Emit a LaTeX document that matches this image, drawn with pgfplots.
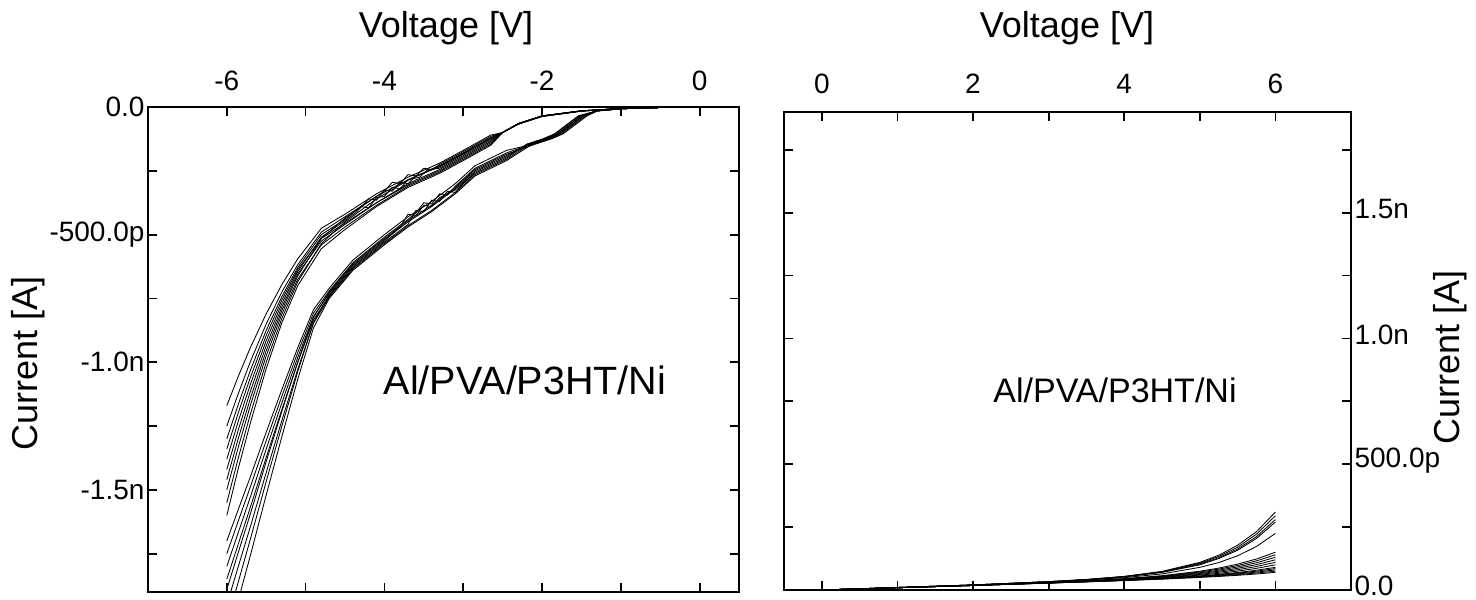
\documentclass[border=0pt]{standalone}
\usepackage{fontspec}
\setmainfont{Liberation Sans}
\usepackage{pgfplots}
\pgfplotsset{compat=1.18}
\pgfplotsset{
  ivbase/.style={
    scale only axis,
    axis line style={line width=1.8pt},
    every tick/.style={black, line width=1.8pt},
    tick align=inside,
    tick pos=both,
    major tick length=9pt,
    minor tick length=9pt,
    xticklabel pos=upper,
    tick label style={font=\fontsize{28}{32}\selectfont},
    clip=true,
  },
  cv/.style={black, line width=0.85pt, mark=none},
}
\begin{document}
\begin{tikzpicture}[x=1pt,y=1pt]
\useasboundingbox (0,0) rectangle (1476,600);
% ---------------- left panel ----------------
\begin{axis}[ivbase,
  at={(148pt,8pt)}, anchor=south west,
  width=591pt, height=485pt,
  xmin=-7, xmax=0.5, ymin=-1.9, ymax=0,
  xtick={-6,-4,-2,0}, xticklabels={-6,-4,-2,0},
  minor xtick={-5,-3,-1},
  ytick={0,-0.5,-1,-1.5}, yticklabels={0.0,-500.0p,-1.0n,-1.5n},
  minor ytick={-0.25,-0.75,-1.25,-1.75},
  yticklabel pos=left,
  xticklabel style={yshift=13pt},
]
% upper branch bundle
\addplot[cv] coordinates {(0,0) (-0.5,-0.002) (-1,-0.006) (-1.5,-0.015) (-2,-0.035) (-2.3,-0.065) (-2.5,-0.10) (-2.65,-0.11) (-3,-0.17) (-3.3,-0.22) (-3.7,-0.275) (-4.1,-0.34) (-4.5,-0.42) (-4.8,-0.475) (-5.1,-0.595) (-5.3,-0.695) (-5.5,-0.81) (-5.7,-0.942) (-5.85,-1.052) (-6,-1.17)};
\addplot[cv] coordinates {(0,0) (-0.5,-0.002) (-1,-0.006) (-1.5,-0.015) (-2,-0.035) (-2.3,-0.065) (-2.5,-0.10) (-2.65,-0.12) (-3,-0.18) (-3.3,-0.23) (-3.7,-0.285) (-4.1,-0.35) (-4.5,-0.43) (-4.8,-0.49) (-5.1,-0.618) (-5.3,-0.724) (-5.5,-0.85) (-5.7,-0.997) (-5.85,-1.119) (-6,-1.25)};
\addplot[cv] coordinates {(0,0) (-0.5,-0.002) (-1,-0.006) (-1.5,-0.016) (-2,-0.036) (-2.3,-0.066) (-2.5,-0.10) (-2.65,-0.13) (-3,-0.19) (-3.3,-0.24) (-3.45,-0.245) (-3.55,-0.275) (-3.7,-0.285) (-3.8,-0.32) (-3.9,-0.315) (-4.0,-0.35) (-4.1,-0.355) (-4.2,-0.395) (-4.3,-0.39) (-4.5,-0.44) (-4.8,-0.50) (-5.1,-0.629) (-5.3,-0.742) (-5.5,-0.875) (-5.7,-1.031) (-5.85,-1.161) (-6,-1.30)};
\addplot[cv] coordinates {(0,0) (-0.5,-0.002) (-1,-0.006) (-1.5,-0.016) (-2,-0.037) (-2.3,-0.067) (-2.5,-0.10) (-2.65,-0.14) (-3,-0.20) (-3.3,-0.25) (-3.7,-0.305) (-4.1,-0.375) (-4.5,-0.455) (-4.8,-0.515) (-5.1,-0.637) (-5.3,-0.755) (-5.5,-0.895) (-5.7,-1.059) (-5.85,-1.194) (-6,-1.34)};
\addplot[cv] coordinates {(0,0) (-0.5,-0.002) (-1,-0.006) (-1.5,-0.015) (-2,-0.035) (-2.3,-0.065) (-2.5,-0.10) (-2.65,-0.125) (-3,-0.185) (-3.3,-0.235) (-3.6,-0.27) (-3.7,-0.30) (-3.8,-0.295) (-3.9,-0.33) (-4.0,-0.325) (-4.1,-0.365) (-4.2,-0.36) (-4.35,-0.41) (-4.5,-0.445) (-4.8,-0.51) (-5.1,-0.645) (-5.3,-0.769) (-5.5,-0.915) (-5.7,-1.086) (-5.85,-1.227) (-6,-1.38)};
\addplot[cv] coordinates {(0,0) (-0.5,-0.002) (-1,-0.006) (-1.5,-0.016) (-2,-0.036) (-2.3,-0.066) (-2.5,-0.10) (-2.65,-0.135) (-3,-0.195) (-3.3,-0.245) (-3.7,-0.30) (-4.1,-0.375) (-4.5,-0.46) (-4.8,-0.525) (-5.1,-0.654) (-5.3,-0.783) (-5.5,-0.935) (-5.7,-1.113) (-5.85,-1.261) (-6,-1.42)};
\addplot[cv] coordinates {(0,0) (-0.5,-0.002) (-1,-0.006) (-1.5,-0.015) (-2,-0.035) (-2.3,-0.065) (-2.5,-0.10) (-2.65,-0.115) (-3,-0.175) (-3.3,-0.225) (-3.4,-0.245) (-3.5,-0.24) (-3.6,-0.27) (-3.7,-0.265) (-3.8,-0.30) (-3.9,-0.295) (-4.0,-0.33) (-4.1,-0.35) (-4.5,-0.435) (-4.8,-0.515) (-5.1,-0.662) (-5.3,-0.796) (-5.5,-0.955) (-5.7,-1.141) (-5.85,-1.294) (-6,-1.46)};
\addplot[cv] coordinates {(0,0) (-0.5,-0.002) (-1,-0.006) (-1.5,-0.016) (-2,-0.037) (-2.3,-0.067) (-2.5,-0.10) (-2.65,-0.145) (-3,-0.205) (-3.3,-0.255) (-3.7,-0.31) (-4.1,-0.385) (-4.5,-0.47) (-4.8,-0.54) (-5.1,-0.675) (-5.3,-0.81) (-5.5,-0.975) (-5.7,-1.168) (-5.85,-1.328) (-6,-1.50)};
\addplot[cv] coordinates {(0,0) (-0.5,-0.002) (-1,-0.006) (-1.5,-0.015) (-2,-0.035) (-2.3,-0.065) (-2.5,-0.10) (-2.65,-0.122) (-3,-0.182) (-3.3,-0.232) (-3.7,-0.287) (-4.1,-0.36) (-4.5,-0.45) (-4.8,-0.535) (-5.1,-0.685) (-5.3,-0.827) (-5.5,-1.0) (-5.7,-1.202) (-5.85,-1.37) (-6,-1.55)};
\addplot[cv] coordinates {(0,0) (-0.5,-0.002) (-1,-0.006) (-1.5,-0.016) (-2,-0.037) (-2.3,-0.067) (-2.5,-0.10) (-2.65,-0.15) (-3,-0.21) (-3.3,-0.26) (-3.7,-0.315) (-4.1,-0.39) (-4.5,-0.48) (-4.8,-0.555) (-5.1,-0.70) (-5.3,-0.844) (-5.5,-1.025) (-5.7,-1.237) (-5.85,-1.411) (-6,-1.60)};
% lower branch bundle
\addplot[cv] coordinates {(0,0) (-0.5,-0.002) (-1,-0.007) (-1.3,-0.015) (-1.45,-0.035) (-1.6,-0.07) (-1.75,-0.105) (-1.9,-0.125) (-2.1,-0.145) (-2.45,-0.17) (-2.85,-0.23) (-3.1,-0.30) (-3.4,-0.37) (-3.7,-0.43) (-4.0,-0.50) (-4.4,-0.60) (-4.7,-0.71) (-4.9,-0.794) (-5.1,-0.943) (-5.3,-1.106) (-5.5,-1.274) (-5.7,-1.448) (-5.85,-1.573) (-6,-1.70)};
\addplot[cv] coordinates {(0,0) (-0.5,-0.002) (-1,-0.007) (-1.3,-0.015) (-1.48,-0.035) (-1.63,-0.07) (-1.78,-0.105) (-1.93,-0.125) (-2.13,-0.145) (-2.45,-0.18) (-2.85,-0.24) (-3.1,-0.31) (-3.2,-0.345) (-3.3,-0.34) (-3.4,-0.38) (-3.5,-0.375) (-3.6,-0.415) (-3.7,-0.44) (-4.0,-0.51) (-4.4,-0.61) (-4.7,-0.72) (-4.9,-0.808) (-5.1,-0.962) (-5.3,-1.132) (-5.5,-1.307) (-5.7,-1.487) (-5.85,-1.618) (-6,-1.75)};
\addplot[cv] coordinates {(0,0) (-0.5,-0.002) (-1,-0.007) (-1.3,-0.015) (-1.51,-0.035) (-1.66,-0.07) (-1.81,-0.105) (-1.96,-0.125) (-2.16,-0.145) (-2.45,-0.19) (-2.85,-0.25) (-3.1,-0.32) (-3.4,-0.39) (-3.7,-0.45) (-4.0,-0.52) (-4.4,-0.62) (-4.7,-0.73) (-4.9,-0.821) (-5.1,-0.981) (-5.3,-1.158) (-5.5,-1.34) (-5.7,-1.527) (-5.85,-1.663) (-6,-1.80)};
\addplot[cv] coordinates {(0,0) (-0.5,-0.002) (-1,-0.007) (-1.3,-0.015) (-1.54,-0.035) (-1.69,-0.07) (-1.84,-0.105) (-1.99,-0.125) (-2.19,-0.145) (-2.45,-0.20) (-2.85,-0.26) (-3.0,-0.30) (-3.1,-0.335) (-3.2,-0.33) (-3.3,-0.37) (-3.4,-0.365) (-3.5,-0.41) (-3.6,-0.405) (-3.7,-0.46) (-4.0,-0.53) (-4.4,-0.63) (-4.7,-0.74) (-4.9,-0.834) (-5.1,-1.001) (-5.3,-1.184) (-5.5,-1.373) (-5.7,-1.567) (-5.85,-1.708) (-6,-1.85)};
\addplot[cv] coordinates {(0,0) (-0.5,-0.002) (-1,-0.007) (-1.3,-0.016) (-1.43,-0.035) (-1.58,-0.07) (-1.73,-0.105) (-1.88,-0.125) (-2.08,-0.145) (-2.45,-0.185) (-2.85,-0.245) (-3.1,-0.315) (-3.4,-0.385) (-3.7,-0.445) (-4.0,-0.515) (-4.4,-0.615) (-4.7,-0.725) (-4.9,-0.824) (-5.1,-0.999) (-5.3,-1.191) (-5.5,-1.389) (-5.7,-1.593) (-5.85,-1.741) (-6,-1.89)};
\addplot[cv] coordinates {(0,0) (-0.5,-0.002) (-1,-0.007) (-1.3,-0.015) (-1.50,-0.035) (-1.65,-0.07) (-1.80,-0.105) (-1.95,-0.125) (-2.15,-0.145) (-2.45,-0.205) (-2.85,-0.265) (-3.1,-0.335) (-3.4,-0.405) (-3.7,-0.465) (-4.0,-0.535) (-4.4,-0.635) (-4.7,-0.745) (-4.9,-0.847) (-5.1,-1.028) (-5.3,-1.227) (-5.5,-1.432) (-5.7,-1.643) (-5.85,-1.796) (-6,-1.95)};
\addplot[cv] coordinates {(0,0) (-0.5,-0.002) (-1,-0.007) (-1.3,-0.015) (-1.53,-0.035) (-1.68,-0.07) (-1.83,-0.105) (-1.98,-0.125) (-2.18,-0.145) (-2.45,-0.195) (-2.85,-0.255) (-3.1,-0.325) (-3.3,-0.355) (-3.4,-0.39) (-3.5,-0.385) (-3.6,-0.425) (-3.7,-0.42) (-3.8,-0.47) (-4.0,-0.525) (-4.4,-0.625) (-4.7,-0.735) (-4.9,-0.844) (-5.1,-1.037) (-5.3,-1.249) (-5.5,-1.467) (-5.7,-1.692) (-5.85,-1.856) (-6,-2.02)};
\addplot[cv] coordinates {(0,0) (-0.5,-0.002) (-1,-0.007) (-1.3,-0.015) (-1.47,-0.035) (-1.62,-0.07) (-1.77,-0.105) (-1.92,-0.125) (-2.12,-0.145) (-2.45,-0.21) (-2.85,-0.27) (-3.1,-0.34) (-3.4,-0.41) (-3.7,-0.47) (-4.0,-0.54) (-4.4,-0.64) (-4.7,-0.75) (-4.9,-0.865) (-5.1,-1.067) (-5.3,-1.29) (-5.5,-1.52) (-5.7,-1.756) (-5.85,-1.927) (-6,-2.10)};
\end{axis}
% ---------------- right panel ----------------
\begin{axis}[ivbase,
  at={(784pt,10pt)}, anchor=south west,
  width=567pt, height=478pt,
  xmin=-0.5, xmax=7, ymin=0, ymax=1.9,
  xtick={0,2,4,6}, xticklabels={0,2,4,6},
  minor xtick={1,3,5},
  ytick={0,0.5,1,1.5}, yticklabels={0.0,500.0p,1.0n,1.5n},
  minor ytick={0.25,0.75,1.25,1.75},
  yticklabel pos=right,
  xticklabel style={yshift=15pt},
  yticklabel style={yshift=4pt},
]
\addplot[cv] coordinates {(0,0) (1,0.010) (2,0.020) (3,0.033) (3.5,0.042) (4,0.054) (4.5,0.074) (5,0.110) (5.25,0.138) (5.5,0.178) (5.75,0.232) (6,0.310)};
\addplot[cv] coordinates {(0,0) (1,0.010) (2,0.020) (3,0.0332) (3.5,0.0416) (4,0.0535) (4.5,0.0725) (5,0.1064) (5.25,0.133) (5.5,0.170) (5.75,0.222) (6,0.295)};
\addplot[cv] coordinates {(0,0) (1,0.010) (2,0.020) (3,0.033) (3.5,0.041) (4,0.053) (4.5,0.071) (5,0.103) (5.25,0.128) (5.5,0.163) (5.75,0.212) (6,0.280)};
\addplot[cv] coordinates {(0,0) (1,0.010) (2,0.020) (3,0.033) (3.5,0.041) (4,0.052) (4.5,0.070) (5,0.100) (5.25,0.125) (5.5,0.158) (5.75,0.205) (6,0.270)};
\addplot[cv] coordinates {(0,0) (1,0.010) (2,0.020) (3,0.032) (3.5,0.040) (4,0.049) (4.5,0.064) (5,0.090) (5.25,0.109) (5.5,0.136) (5.75,0.173) (6,0.225)};
\addplot[cv] coordinates {(0,0) (1,0.009) (2,0.019) (3,0.0298) (3.5,0.0366) (4,0.0451) (4.5,0.0569) (5,0.0746) (5.25,0.087) (5.5,0.1028) (5.75,0.1233) (6,0.150)};
\addplot[cv] coordinates {(0,0) (1,0.009) (2,0.019) (3,0.0295) (3.5,0.036) (4,0.0442) (4.5,0.0552) (5,0.0715) (5.25,0.0829) (5.5,0.0972) (5.75,0.1159) (6,0.140)};
\addplot[cv] coordinates {(0,0) (1,0.009) (2,0.019) (3,0.0292) (3.5,0.0355) (4,0.0432) (4.5,0.0535) (5,0.0684) (5.25,0.0788) (5.5,0.0917) (5.75,0.1084) (6,0.130)};
\addplot[cv] coordinates {(0,0) (1,0.009) (2,0.019) (3,0.0289) (3.5,0.035) (4,0.0423) (4.5,0.0518) (5,0.0653) (5.25,0.0746) (5.5,0.0861) (5.75,0.1010) (6,0.120)};
\addplot[cv] coordinates {(0,0) (1,0.009) (2,0.018) (3,0.0286) (3.5,0.0345) (4,0.0413) (4.5,0.0501) (5,0.0622) (5.25,0.0705) (5.5,0.0806) (5.75,0.0935) (6,0.110)};
\addplot[cv] coordinates {(0,0) (1,0.009) (2,0.018) (3,0.0283) (3.5,0.0339) (4,0.0404) (4.5,0.0484) (5,0.0592) (5.25,0.0663) (5.5,0.0750) (5.75,0.0861) (6,0.100)};
\addplot[cv] coordinates {(0,0) (1,0.009) (2,0.018) (3,0.0281) (3.5,0.0334) (4,0.0394) (4.5,0.0467) (5,0.0561) (5.25,0.0622) (5.5,0.0695) (5.75,0.0786) (6,0.090)};
\addplot[cv] coordinates {(0,0) (1,0.009) (2,0.018) (3,0.0279) (3.5,0.0331) (4,0.0389) (4.5,0.0458) (5,0.0545) (5.25,0.0601) (5.5,0.0667) (5.75,0.0749) (6,0.085)};
\addplot[cv] coordinates {(0,0) (1,0.009) (2,0.018) (3,0.0278) (3.5,0.0329) (4,0.0385) (4.5,0.0449) (5,0.0530) (5.25,0.0581) (5.5,0.0639) (5.75,0.0712) (6,0.080)};
\addplot[cv] coordinates {(0,0) (1,0.009) (2,0.018) (3,0.0276) (3.5,0.0326) (4,0.0380) (4.5,0.0441) (5,0.0515) (5.25,0.0560) (5.5,0.0612) (5.75,0.0674) (6,0.075)};
\addplot[cv] coordinates {(0,0) (1,0.009) (2,0.018) (3,0.0275) (3.5,0.0323) (4,0.0375) (4.5,0.0432) (5,0.0499) (5.25,0.0539) (5.5,0.0584) (5.75,0.0637) (6,0.070)};
\end{axis}
% ---------------- labels ----------------
\node[font=\fontsize{36}{42}\selectfont, anchor=base] at (446,562) {Voltage [V]};
\node[font=\fontsize{36}{42}\selectfont, anchor=base] at (1067,562) {Voltage [V]};
\node[font=\fontsize{36}{42}\selectfont, rotate=90, anchor=base] at (37,237) {Current [A]};
\node[font=\fontsize{36}{42}\selectfont, rotate=90, anchor=base] at (1459,243) {Current [A]};
\node[font=\fontsize{39.5}{46}\selectfont, anchor=base] at (525,205) {Al/PVA/P3HT/Ni};
\node[font=\fontsize{34}{40}\selectfont, anchor=base] at (1115,197) {Al/PVA/P3HT/Ni};
\end{tikzpicture}
\end{document}
